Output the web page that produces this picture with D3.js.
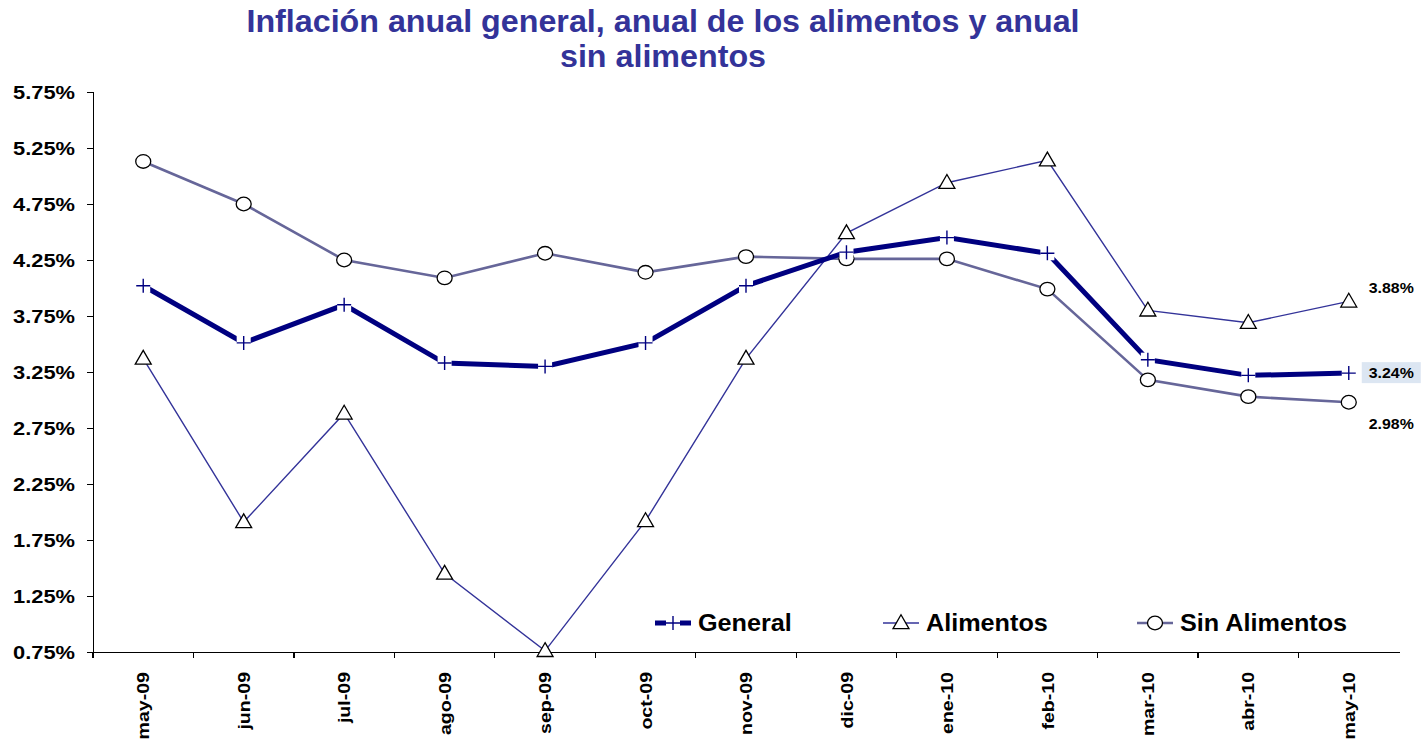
<!DOCTYPE html>
<html lang="es">
<head>
  <meta charset="UTF-8">
  <title>Inflación anual</title>
  <script src="https://cdn.jsdelivr.net/npm/d3@7"></script>
  <style>
  body{
    margin: 0;
    background: #fff;
  }
  .titulo{
    font-family: 'Liberation Sans', Arial, sans-serif;
    font-weight: 700;
    font-size: 31px;
    fill: #333399;
  }
  .ejeY text, .ejeX text{
    font-family: 'Liberation Sans', Arial, sans-serif;
    font-weight: 700;
    fill: #000;
  }
  .ejeY text{ font-size: 19px; }
  .ejeX text{ font-size: 17px; }
  .ejeY path, .ejeY line, .ejeX path, .ejeX line{
    stroke: #000;
    stroke-width: 1.3;
    shape-rendering: crispEdges;
  }
  .leyenda{
    font-family: 'Liberation Sans', Arial, sans-serif;
    font-weight: 700;
    font-size: 24px;
    fill: #000;
  }
  .etiqueta{
    font-family: 'Liberation Sans', Arial, sans-serif;
    font-weight: 700;
    font-size: 15px;
    fill: #000;
  }
  </style>
</head>
<body>
  <div id="grafico"></div>

  <script>
    // datos
    var meses = ['may-09','jun-09','jul-09','ago-09','sep-09','oct-09','nov-09',
                 'dic-09','ene-10','feb-10','mar-10','abr-10','may-10'];
    var general      = [4.02, 3.51, 3.85, 3.33, 3.30, 3.51, 4.02, 4.32, 4.45, 4.31, 3.36, 3.22, 3.24];
    var alimentos    = [3.37, 1.91, 2.88, 1.45, 0.76, 1.92, 3.37, 4.49, 4.94, 5.14, 3.80, 3.69, 3.88];
    var sinAlimentos = [5.13, 4.75, 4.25, 4.09, 4.31, 4.14, 4.28, 4.26, 4.26, 3.99, 3.18, 3.03, 2.98];
    var ticksY = [0.75, 1.25, 1.75, 2.25, 2.75, 3.25, 3.75, 4.25, 4.75, 5.25, 5.75];
    var nombres = ['General', 'Alimentos', 'Sin Alimentos'];

    var w = 1421, h = 741;
    var margen = {top: 92, right: 22, bottom: 89, left: 93};

    var svg = d3.select('#grafico')
      .append('svg')
      .attr('width', w)
      .attr('height', h);

    // el texto del original sale algo mas ancho, se estira un poco
    function estirar(sel, f){
      sel.each(function(){
        var l = this.getComputedTextLength();
        d3.select(this)
          .attr('textLength', l * f)
          .attr('lengthAdjust', 'spacingAndGlyphs');
      });
    }

    // titulo
    svg.append('text')
      .attr('class', 'titulo')
      .attr('x', 663).attr('y', 32)
      .attr('text-anchor', 'middle')
      .text('Inflación anual general, anual de los alimentos y anual')
      .call(estirar, 1.04);
    svg.append('text')
      .attr('class', 'titulo')
      .attr('x', 663).attr('y', 67)
      .attr('text-anchor', 'middle')
      .text('sin alimentos')
      .call(estirar, 1.04);

    // escalas
    var x = d3.scaleBand()
      .domain(meses)
      .range([margen.left, w - margen.right]);

    var y = d3.scaleLinear()
      .domain([0.75, 5.75])
      .range([h - margen.bottom, margen.top]);

    var cx = function(d, i){ return x(meses[i]) + x.bandwidth() / 2; };

    // ejes
    var ejeY = d3.axisLeft(y)
      .tickValues(ticksY)
      .tickSize(6)
      .tickPadding(12)
      .tickFormat(function(d){ return d.toFixed(2) + '%'; });

    svg.append('g')
      .attr('class', 'ejeY')
      .attr('transform', 'translate(' + margen.left + ',0)')
      .call(ejeY)
      .call(function(g){
        g.selectAll('text').attr('dy', '0.36em').call(estirar, 1.15);
      });

    var ejeX = d3.axisBottom(x)
      .tickSize(0)
      .tickSizeOuter(0);

    var gx = svg.append('g')
      .attr('class', 'ejeX')
      .attr('transform', 'translate(0,' + (h - margen.bottom) + ')')
      .call(ejeX);

    gx.selectAll('.tick text')
      .attr('transform', 'rotate(-90)')
      .attr('text-anchor', 'end')
      .attr('x', -20)
      .attr('y', 0)
      .attr('dy', '0.36em')
      .call(estirar, 1.15);

    // marcas entre categorias
    gx.selectAll('.sep')
      .data(meses)
      .enter()
      .append('line')
      .attr('class', 'sep')
      .attr('x1', function(d){ return x(d); })
      .attr('x2', function(d){ return x(d); })
      .attr('y1', 0)
      .attr('y2', 6);

    // lineas
    var linea = d3.line()
      .x(cx)
      .y(function(d){ return y(d); });

    svg.append('path')
      .datum(sinAlimentos)
      .attr('d', linea)
      .attr('fill', 'none')
      .attr('stroke', '#666699')
      .attr('stroke-width', 2.6);

    svg.append('path')
      .datum(alimentos)
      .attr('d', linea)
      .attr('fill', 'none')
      .attr('stroke', '#333399')
      .attr('stroke-width', 1.4);

    svg.append('path')
      .datum(general)
      .attr('d', linea)
      .attr('fill', 'none')
      .attr('stroke', '#000080')
      .attr('stroke-width', 5);

    // marcadores
    var triangulo = d3.symbol().type(d3.symbolTriangle).size(110);

    function cruces(sel){
      sel.append('rect')
        .attr('x', -7).attr('y', -7)
        .attr('width', 14).attr('height', 14)
        .attr('fill', '#fff');
      sel.append('path')
        .attr('d', 'M-7,0H7M0,-7V7')
        .attr('stroke', '#000080')
        .attr('stroke-width', 1.4);
    }

    svg.selectAll('.mSin')
      .data(sinAlimentos)
      .enter()
      .append('ellipse')
      .attr('class', 'mSin')
      .attr('cx', cx)
      .attr('cy', function(d){ return y(d); })
      .attr('rx', 7.5).attr('ry', 6.8)
      .attr('fill', '#fff')
      .attr('stroke', '#000')
      .attr('stroke-width', 1.3);

    svg.selectAll('.mAli')
      .data(alimentos)
      .enter()
      .append('path')
      .attr('class', 'mAli')
      .attr('d', triangulo)
      .attr('transform', function(d, i){ return 'translate(' + cx(d, i) + ',' + (y(d) + 1) + ')'; })
      .attr('fill', '#fff')
      .attr('stroke', '#000')
      .attr('stroke-width', 1.3);

    svg.selectAll('.mGen')
      .data(general)
      .enter()
      .append('g')
      .attr('class', 'mGen')
      .attr('transform', function(d, i){ return 'translate(' + cx(d, i) + ',' + y(d) + ')'; })
      .call(cruces);

    // etiquetas del ultimo mes
    var ult = meses.length - 1;
    var xUlt = cx(null, ult);

    svg.append('text')
      .attr('class', 'etiqueta')
      .attr('x', xUlt + 20)
      .attr('y', y(alimentos[ult]) - 8)
      .text(alimentos[ult].toFixed(2) + '%')
      .call(estirar, 1.06);

    svg.append('rect')
      .attr('x', xUlt + 13)
      .attr('y', y(general[ult]) - 11)
      .attr('width', 59)
      .attr('height', 21)
      .attr('fill', '#dce6f2');
    svg.append('text')
      .attr('class', 'etiqueta')
      .attr('x', xUlt + 20)
      .attr('y', y(general[ult]) + 5)
      .text(general[ult].toFixed(2) + '%')
      .call(estirar, 1.06);

    svg.append('text')
      .attr('class', 'etiqueta')
      .attr('x', xUlt + 20)
      .attr('y', y(sinAlimentos[ult]) + 27)
      .text(sinAlimentos[ult].toFixed(2) + '%')
      .call(estirar, 1.06);

    // leyenda
    var leyX = [655, 883, 1137];
    var leyY = 623;
    var ley = svg.selectAll('.ley')
      .data(nombres)
      .enter()
      .append('g')
      .attr('class', 'ley')
      .attr('transform', function(d, i){ return 'translate(' + leyX[i] + ',' + leyY + ')'; });

    ley.append('line')
      .attr('x1', 0).attr('x2', 36)
      .attr('stroke', function(d, i){ return ['#000080', '#333399', '#666699'][i]; })
      .attr('stroke-width', function(d, i){ return [5, 1.4, 2.6][i]; });

    ley.filter(function(d, i){ return i === 0; })
      .append('g')
      .attr('transform', 'translate(18,0)')
      .call(cruces);

    ley.filter(function(d, i){ return i === 1; })
      .append('path')
      .attr('d', triangulo)
      .attr('transform', 'translate(18,1)')
      .attr('fill', '#fff')
      .attr('stroke', '#000')
      .attr('stroke-width', 1.3);

    ley.filter(function(d, i){ return i === 2; })
      .append('ellipse')
      .attr('cx', 18)
      .attr('rx', 7.5).attr('ry', 6.8)
      .attr('fill', '#fff')
      .attr('stroke', '#000')
      .attr('stroke-width', 1.3);

    ley.append('text')
      .attr('class', 'leyenda')
      .attr('x', 43)
      .attr('y', 8)
      .text(function(d){ return d; })
      .call(estirar, 1.05);
  </script>
</body>
</html>
